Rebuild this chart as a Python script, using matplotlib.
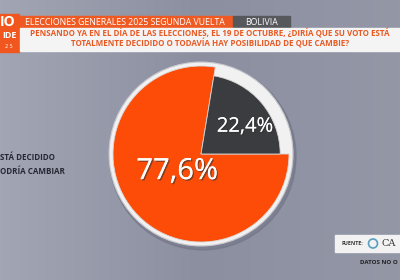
import numpy as np
import matplotlib
matplotlib.use('Agg')
import matplotlib.pyplot as plt
import matplotlib.patheffects as pe
from matplotlib.patches import Rectangle, Circle

# data
labels = ['STÁ DECIDIDO', 'ODRÍA CAMBIAR']   # as visible (cut at left edge in the source)
values = [77.6, 22.4]
colors = ['#fc4c07', '#3b3c40']
value_text = ['77,6%', '22,4%']

header = 'ELECCIONES GENERALES 2025 SEGUNDA VUELTA'
country = 'BOLIVIA'
question = ['PENSANDO YA EN EL DÍA DE LAS ELECCIONES, EL 19 DE OCTUBRE, ¿DIRÍA QUE SU VOTO ESTÁ',
            'TOTALMENTE DECIDIDO O TODAVÍA HAY POSIBILIDAD DE QUE CAMBIE?']

W, H = 400, 280
fig = plt.figure(figsize=(4, 2.8), dpi=100)
plt.rcParams['font.family'] = ['Open Sans', 'DejaVu Sans']

# background layer in pixel coords
bg = fig.add_axes([0, 0, 1, 1])
bg.set_xlim(0, W)
bg.set_ylim(H, 0)
bg.axis('off')
grad = np.linspace(0, 1, 200)
img = np.outer(np.ones(50), grad)
bg.imshow(img, extent=[0, W, H, 0], cmap=matplotlib.colors.LinearSegmentedColormap.from_list(
    'bgc', ['#a2a5b3', '#8c8fa0', '#9497a6']), aspect='auto', zorder=0)

# header bars
bg.add_patch(Rectangle((0, 14), 19, 38, color='#f0561e', zorder=2))
bg.text(8, 22, 'IO', color='white', fontsize=10, fontweight='bold', ha='center', va='center', zorder=3)
bg.text(9, 36, 'IDE', color='white', fontsize=6.5, fontweight='bold', ha='center', va='center', zorder=3)
bg.text(9, 46, '2 5', color='white', fontsize=4, ha='center', va='center', zorder=3)

bg.add_patch(Rectangle((20, 16), 213, 12, color='#ef5a22', zorder=2))
bg.text(25, 22.3, header, color='white', fontsize=6.3, ha='left', va='center', zorder=3)
bg.add_patch(Rectangle((233, 16), 57, 12, color='#56585c', zorder=2))
bg.text(261, 22.3, country, color='white', fontsize=6.3, ha='center', va='center', zorder=3)
bg.add_patch(Rectangle((20, 28), 380, 23, color='#f4f4f4', zorder=2))
bg.text(210, 34, question[0], color='#e85a24', fontsize=5.8, fontweight='bold',
        ha='center', va='center', zorder=3)
bg.text(210, 43, question[1], color='#e85a24', fontsize=5.8, fontweight='bold',
        ha='center', va='center', zorder=3)

# legend labels
bg.text(0, 158, labels[0], color='#262833', fontsize=5.8, fontweight='bold', ha='left', va='center', zorder=3)
bg.text(0, 172, labels[1], color='#262833', fontsize=5.8, fontweight='bold', ha='left', va='center', zorder=3)

# source box
bg.add_patch(Rectangle((335, 235), 70, 17, color='#f2f2f2', zorder=2))
bg.text(341, 243.5, 'FUENTE:', color='#333333', fontsize=3.8, fontweight='bold', ha='left', va='center', zorder=3)
bg.add_patch(Circle((373, 243.5), 4.5, fill=False, ec='#5a9fc0', lw=1.2, zorder=3))
bg.text(382, 243.5, 'CA', color='#333333', fontsize=7, family='DejaVu Serif', ha='left', va='center', zorder=3)
bg.text(360, 262, 'DATOS NO O', color='#222222', fontsize=4.4, fontweight='bold', ha='left', va='center', zorder=3)

# pie
cx, cy, r = 201, 154, 88
half = 100
ax = fig.add_axes([(cx - half) / W, (H - cy - half) / H, 2 * half / W, 2 * half / H])
ax.axis('off')
ax.add_patch(Circle((0.02, -0.03), 1.06, color='#6d7080', alpha=0.5, zorder=0))
ax.add_patch(Circle((0, 0), 1.045, fc='#f1f1f1', ec='#c9c9cf', lw=0.8, zorder=1))
wedges, _ = ax.pie(values, colors=colors, startangle=values[1] * 3.6, counterclock=True,
                   radius=1, wedgeprops=dict(linewidth=0.6, edgecolor='#d8d8d8'))
for w in wedges:
    w.set_zorder(2)
wedges[1].set_radius(0.9)
ax.set_xlim(-half / r, half / r)
ax.set_ylim(-half / r, half / r)

shadow = [pe.withSimplePatchShadow(offset=(1, -1), shadow_rgbFace='#333333', alpha=0.6), pe.Normal()]
ax.text(-0.27, -0.2, value_text[0], color='white', fontsize=21, ha='center', va='center',
        zorder=4, path_effects=shadow)
ax.text(0.5, 0.31, value_text[1], color='white', fontsize=14.5, ha='center', va='center',
        zorder=4, path_effects=shadow)

fig.savefig('out.png', dpi=100)
